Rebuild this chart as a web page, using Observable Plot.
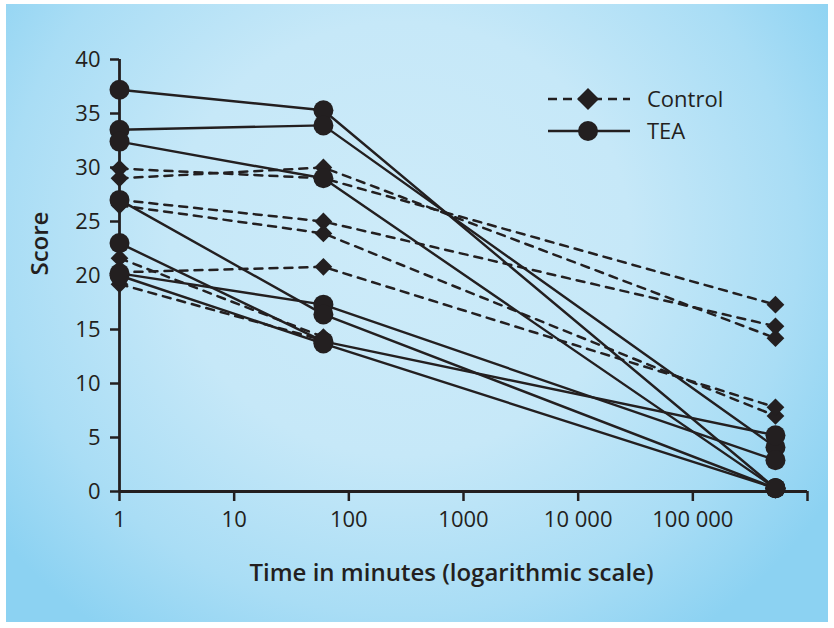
<!DOCTYPE html>
<html>
<head>
<meta charset="utf-8">
<script src="https://cdn.jsdelivr.net/npm/d3@7"></script>
<script src="https://cdn.jsdelivr.net/npm/@observablehq/plot@0.6"></script>
<style>
  html, body { margin: 0; padding: 0; background: #ffffff; }
  #wrap { position: relative; width: 834px; height: 628px; overflow: hidden; background: #ffffff; font-family: "Open Sans", sans-serif; }
  #panel { position: absolute; left: 6px; top: 4px; width: 822px; height: 618px;
    background: radial-gradient(ellipse 62% 78% at 48% 38%, #cdebf9 0%, #c6e8f8 45%, #a9ddf5 78%, #8cd2f2 100%); }
  #chart { position: absolute; left: 0; top: 0; }
  #legend { position: absolute; left: 0; top: 0; }
</style>
</head>
<body>
<div id="wrap">
  <div id="panel"></div>
  <div id="chart"></div>
  <svg id="legend" width="834" height="628"></svg>
</div>
<script>
// ---- data ----
const times = [1, 60, 525600];               // minutes: 1 min, 1 hour, 1 year
const groups = ["Control", "TEA"];
const controlScores = [
  [29.0, 30.0, 14.2],
  [29.9, 29.0, 17.3],
  [27.0, 25.0, 15.3],
  [26.5, 23.9, 7.0],
  [20.3, 20.8, 7.8],
  [21.6, 14.3, null],
  [19.2, 14.0, null]
];
const teaScores = [
  [37.2, 35.3, 0.3],
  [33.5, 33.9, 4.1],
  [32.4, 29.0, 0.3],
  [20.2, 17.3, 2.9],
  [27.0, 16.4, 0.3],
  [23.0, 13.9, 5.2],
  [20.0, 13.7, 0.3]
];
const yTicks = [0, 5, 10, 15, 20, 25, 30, 35, 40];
const xTicks = [1, 10, 100, 1000, 10000, 100000, 1000000];
const xTickLabels = ["1", "10", "100", "1000", "10 000", "100 000", ""];
const xTitle = "Time in minutes (logarithmic scale)";
const yTitle = "Score";

// ---- build rows ----
function toRows(scores, group) {
  return scores.flatMap((s, i) => s.map((v, j) => ({ group, id: group + i, time: times[j], score: v })));
}
const controlRows = toRows(controlScores, groups[0]);
const teaRows = toRows(teaScores, groups[1]);

const ink = "#231f20";
const font = "'Open Sans', sans-serif";

const chart = Plot.plot({
  width: 834,
  height: 628,
  marginLeft: 119,
  marginRight: 27,
  marginTop: 59,
  marginBottom: 137,
  style: { background: "transparent", fontFamily: font, color: ink, overflow: "visible" },
  x: { type: "log", domain: [1, 1e6] },
  y: { domain: [0, 40] },
  marks: [
    Plot.axisY({ ticks: yTicks, tickSize: 9, tickPadding: 10, fontSize: 22, label: null, strokeWidth: 2.5, stroke: ink, fill: ink }),
    Plot.axisX({ ticks: xTicks, tickFormat: d => xTickLabels[xTicks.indexOf(d)], tickSize: 10, tickPadding: 10, fontSize: 22, label: null, strokeWidth: 2.5, stroke: ink, fill: ink }),
    Plot.ruleX([1], { stroke: ink, strokeWidth: 2.8 }),
    Plot.ruleY([0], { stroke: ink, strokeWidth: 2.8 }),
    Plot.line(controlRows, { x: "time", y: "score", z: "id", stroke: ink, strokeWidth: 2.5, strokeDasharray: "8,7" }),
    Plot.line(teaRows, { x: "time", y: "score", z: "id", stroke: ink, strokeWidth: 2.4 }),
    Plot.dot(controlRows, { x: "time", y: "score", symbol: "diamond2", r: 8, fill: ink, stroke: null }),
    Plot.dot(teaRows, { x: "time", y: "score", r: 10, fill: ink, stroke: null }),
    Plot.text([yTitle], { frameAnchor: "left", dx: -79, rotate: -90, fontSize: 24, fontWeight: 600, fill: ink, fontFamily: font }),
    Plot.text([xTitle], { frameAnchor: "bottom", dx: -12, dy: 89, fontSize: 24, fontWeight: 600, fill: ink, fontFamily: font })
  ]
});
document.getElementById("chart").appendChild(chart);

// ---- legend ----
const leg = d3.select("#legend");
const legendY = [99, 131];
groups.forEach((g, i) => {
  const y = legendY[i];
  leg.append("line").attr("x1", 548).attr("x2", 630).attr("y1", y).attr("y2", y)
    .attr("stroke", ink).attr("stroke-width", 2.5)
    .attr("stroke-dasharray", g === "Control" ? "9,6" : null);
  if (g === "Control") {
    leg.append("path").attr("d", `M588,${y - 11}L599,${y}L588,${y + 11}L577,${y}Z`).attr("fill", ink);
  } else {
    leg.append("circle").attr("cx", 588).attr("cy", y).attr("r", 10).attr("fill", ink);
  }
  leg.append("text").attr("x", 647).attr("y", y).attr("dy", "0.35em")
    .attr("font-family", font).attr("font-size", 22).attr("fill", ink).text(g);
});
</script>
</body>
</html>
